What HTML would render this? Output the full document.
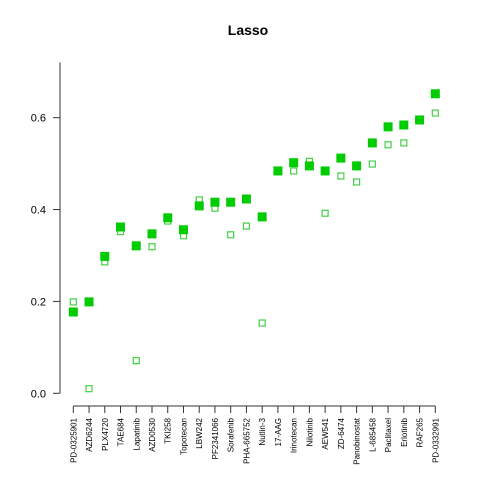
<!DOCTYPE html>
<html><head><meta charset="utf-8"><style>body{margin:0;background:#fff}svg{display:block;font-family:"Liberation Sans",sans-serif}</style></head>
<body>
<svg id="c" width="480" height="480">
<text x="248" y="35" text-anchor="middle" font-size="14" font-weight="bold">Lasso</text>
</svg>
<script>
const categories=["PD-0325901","AZD6244","PLX4720","TAE684","Lapatinib","AZD0530","TKI258","Topotecan","LBW242","PF2341066","Sorafenib","PHA-665752","Nutlin-3","17-AAG","Irinotecan","Nilotinib","AEW541","ZD-6474","Panobinostat","L-685458","Paclitaxel","Erlotinib","RAF265","PD-0332991"];
const filledValues=[0.177,0.199,0.298,0.362,0.321,0.347,0.382,0.356,0.408,0.416,0.416,0.423,0.384,0.484,0.502,0.495,0.484,0.512,0.495,0.545,0.580,0.584,0.595,0.652];
const openValues=[0.199,0.010,0.286,0.352,0.071,0.319,0.375,0.343,0.421,0.403,0.345,0.364,0.153,null,0.484,0.505,0.392,0.473,0.460,0.499,0.541,0.545,null,0.610];
const yTicks=[0,0.2,0.4,0.6];
const yTickLabels=["0.0","0.2","0.4","0.6"];
const NS="http://www.w3.org/2000/svg",svg=document.getElementById('c');
const y=v=>393.3-v*459.4;
const x=i=>73.3+i*(435.3-73.3)/(categories.length-1);
function mk(t,a){const e=document.createElementNS(NS,t);for(const k in a)e.setAttribute(k,a[k]);svg.appendChild(e);return e;}
let ax=mk('line',{x1:60,x2:60,y1:y(0.72),y2:y(0),stroke:'#333'});


yTicks.forEach((t,i)=>{
 let l=mk('line',{x1:53,x2:60,y1:y(t),y2:y(t),stroke:'#333'});
 
 
 let tx=mk('text',{x:46,y:y(t)+4,'text-anchor':'end','font-size':11});
 tx.textContent=yTickLabels[i];
 
 
});
let xa=mk('line',{x1:x(0),x2:x(categories.length-1),y1:406,y2:406,stroke:'#333'});


categories.forEach((c,i)=>{
 let l=mk('line',{x1:x(i),x2:x(i),y1:406,y2:413,stroke:'#333'});
 
 
 let tx=mk('text',{x:0,y:0,'text-anchor':'end','font-size':8,transform:`translate(${x(i)+3},418) rotate(-90)`});
 tx.textContent=c;
 
 
});
openValues.forEach((v,i)=>{if(v==null)return;
 let r=mk('rect',{x:x(i)-3,y:y(v)-3,width:6,height:6,fill:'none',stroke:'#44d044','stroke-width':1.2});
 
 
});
filledValues.forEach((v,i)=>{
 let r=mk('rect',{x:x(i)-4.5,y:y(v)-4.5,width:9,height:9,fill:'#00cc00'});
 
 
});
</script>
</body></html>
